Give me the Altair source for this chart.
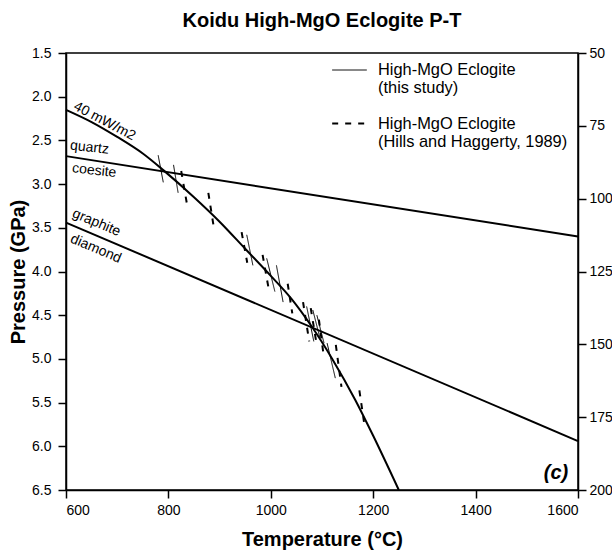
import altair as alt
import pandas as pd

FONT = "Liberation Sans"

# ---------------- data ----------------
# 40 mW/m2 conductive geotherm
geo_T = [600, 650, 700, 750, 790, 850, 900, 950, 1000, 1040, 1080, 1120, 1165, 1200, 1250]
geo_P = [2.15, 2.29, 2.46, 2.65, 2.84, 3.15, 3.43, 3.74, 4.05, 4.31, 4.63, 5.00, 5.47, 5.88, 6.50]

# quartz-coesite and graphite-diamond reactions
qc_T = [600, 1600]
qc_P = [2.68, 3.60]
gd_T = [600, 1600]
gd_P = [3.44, 5.94]

SRC_A = "High-MgO Eclogite|(this study)"
SRC_B = "High-MgO Eclogite|(Hills and Haggerty, 1989)"

# this study: P-T segments (start / end)
a_T1 = [780, 810, 953, 992, 1011, 1070, 1082, 1090, 1110]
a_P1 = [2.67, 2.78, 3.58, 3.85, 3.93, 4.40, 4.44, 4.50, 4.82]
a_T2 = [790, 819, 965, 1008, 1024, 1084, 1096, 1104, 1126]
a_P2 = [2.98, 3.10, 3.93, 4.23, 4.35, 4.80, 4.76, 4.82, 5.22]

# Hills and Haggerty (1989): P-T segments (start / end)
b_T1 = [825, 878, 943, 984, 1033, 1063, 1078, 1094, 1127, 1173]
b_P1 = [2.85, 3.10, 3.55, 3.81, 4.14, 4.35, 4.42, 4.55, 4.84, 5.36]
b_T2 = [836, 888, 954, 995, 1042, 1075, 1090, 1103, 1138, 1182]
b_P2 = [3.22, 3.47, 3.90, 4.17, 4.48, 4.80, 4.85, 4.95, 5.32, 5.72]

# annotations (left-anchored)
ann_text = ["40 mW/m2", "quartz", "coesite", "graphite", "diamond"]
ann_T = [617, 608, 612, 614, 610]
ann_P = [2.10, 2.56, 2.82, 3.33, 3.62]
ann_angle = [28, 6, 6, 23, 23]

P_ticks = [1.5, 2.0, 2.5, 3.0, 3.5, 4.0, 4.5, 5.0, 5.5, 6.0, 6.5]
T_ticks = [600, 800, 1000, 1200, 1400, 1600]
depth_ticks = [50, 75, 100, 125, 150, 175, 200]

# ---------------- tables ----------------
geo_df = pd.DataFrame({"T": geo_T, "P": geo_P})
qc_df = pd.DataFrame({"T": qc_T, "P": qc_P})
gd_df = pd.DataFrame({"T": gd_T, "P": gd_P})
seg_df = pd.concat([
    pd.DataFrame({"T": a_T1, "P": a_P1, "T2": a_T2, "P2": a_P2, "source": SRC_A}),
    pd.DataFrame({"T": b_T1, "P": b_P1, "T2": b_T2, "P2": b_P2, "source": SRC_B}),
], ignore_index=True)
ann_df = pd.DataFrame({"T": ann_T, "P": ann_P, "label": ann_text, "angle": ann_angle})
depth_df = pd.DataFrame({"depth": depth_ticks})

x_enc = alt.X("T:Q",
              scale=alt.Scale(domain=[600, 1600], nice=False, zero=False),
              axis=alt.Axis(values=T_ticks, format="d", title="Temperature (°C)",
                            titlePadding=12, labelPadding=5))
y_enc = alt.Y("P:Q",
              scale=alt.Scale(domain=[1.5, 6.5], nice=False, zero=False, reverse=True),
              axis=alt.Axis(values=P_ticks, format=".1f", title="Pressure (GPa)",
                            titlePadding=3, labelPadding=7))

geo = alt.Chart(geo_df).mark_line(color="black", strokeWidth=2, interpolate="monotone").encode(
    x=x_enc, y=y_enc)
qc = alt.Chart(qc_df).mark_line(color="black", strokeWidth=2).encode(x=x_enc, y=y_enc)
gd = alt.Chart(gd_df).mark_line(color="black", strokeWidth=2).encode(x=x_enc, y=y_enc)

leg = alt.Legend(
    title=None, orient="none", legendX=265, legendY=-1,
    symbolType="stroke", symbolSize=1200, symbolStrokeColor="black",
    labelFont=FONT, labelFontSize=16.4, labelColor="black", labelLimit=400,
    labelExpr="split(datum.label, '|')", labelOffset=10, rowPadding=8,
)
segs = alt.Chart(seg_df).mark_rule(color="black").encode(
    x=x_enc, y=y_enc, x2="T2:Q", y2="P2:Q",
    strokeDash=alt.StrokeDash("source:N",
                              scale=alt.Scale(domain=[SRC_A, SRC_B], range=[[1, 0], [6, 7]]),
                              legend=leg),
    strokeWidth=alt.StrokeWidth("source:N",
                                scale=alt.Scale(domain=[SRC_A, SRC_B], range=[1, 2]),
                                legend=leg),
)

ann = alt.Chart(ann_df).mark_text(font=FONT, fontSize=14, align="left", baseline="middle",
                                  color="black").encode(
    x=x_enc, y=y_enc, text="label:N", angle=alt.Angle("angle:Q", scale=None))

panel = alt.Chart(pd.DataFrame({"T": [1557], "P": [6.30], "label": ["(c)"]})).mark_text(
    font=FONT, fontSize=20, fontWeight="bold", fontStyle="italic", color="black").encode(
    x=x_enc, y=y_enc, text="label:N")

main = alt.layer(geo, qc, gd, segs, ann, panel)

depth = alt.Chart(depth_df).mark_point(opacity=0).encode(
    x=alt.value(0),
    y=alt.Y("depth:Q",
            scale=alt.Scale(domain=[50, 200], nice=False, zero=False, reverse=True),
            axis=alt.Axis(orient="right", values=depth_ticks, title=None, format="d",
                          labelPadding=3)),
)

chart = alt.layer(main, depth).resolve_scale(y="independent").properties(
    width=512, height=437,
    autosize=alt.AutoSizeParams(type="none"),
    padding={"left": 66, "top": 53, "right": 34, "bottom": 70},
    title=alt.Title("Koidu High-MgO Eclogite P-T", font=FONT, fontSize=20, fontWeight="bold",
                    color="black", anchor="middle", offset=15),
).configure_view(
    stroke="black", strokeWidth=1.5
).configure_axis(
    grid=False, domainColor="black", domainWidth=1.5, tickColor="black", tickWidth=1.5,
    tickSize=8, labelFont=FONT, labelFontSize=14, labelColor="black",
    titleFont=FONT, titleFontSize=20, titleFontWeight="bold", titleColor="black",
)

chart.save("out.html", embed_options={"renderer": "svg", "actions": False})
